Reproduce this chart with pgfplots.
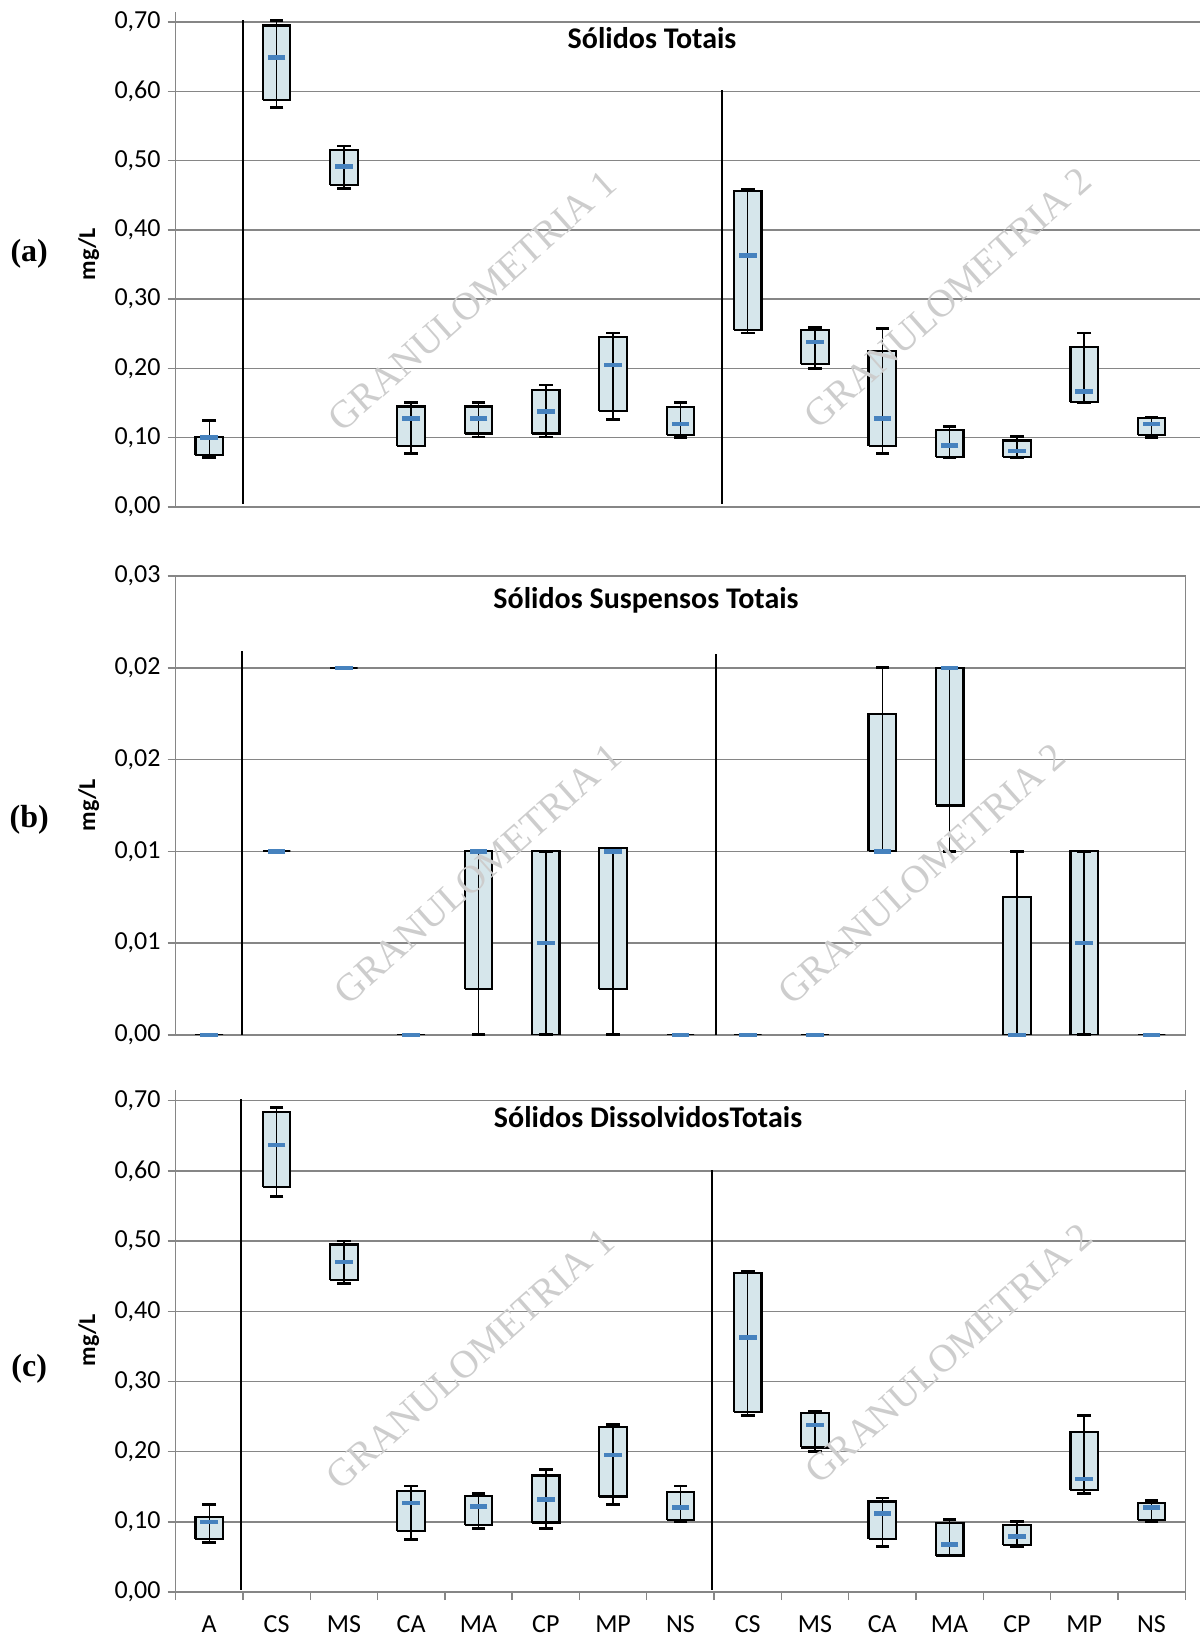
\documentclass[border=0pt]{standalone}
\usepackage{fontspec}
\setmainfont{Carlito}
\newfontfamily\serif{Liberation Serif}
\usepackage{pgfplots}
\pgfplotsset{compat=1.18}
\definecolor{boxfill}{RGB}{214,230,235}
\definecolor{medblue}{RGB}{70,130,190}
\definecolor{gridgray}{RGB}{134,134,134}
\definecolor{wm}{RGB}{205,205,205}
\newcommand{\tickfont}{\fontsize{13}{15}\selectfont}
\pgfplotsset{
  boxst/.style={fill=boxfill, draw=black, line width=1.1pt, mark=none, line join=miter},
  stemst/.style={draw=black, line width=0.75pt, mark=none},
  capst/.style={only marks, mark=-, mark size=3.4pt, mark options={draw=black, line width=1.4pt}},
  medpass/.style={only marks, mark=-, mark size=4.4pt, mark options={draw=medblue, line width=2.3pt}},
  base/.style={
    scale only axis, anchor=south west,
    xmin=-0.5, xmax=14.5, width=504.8pt, ymin=0,
    axis line style={draw=gridgray, line width=0.7pt},
    ymajorgrids, grid style={draw=gridgray, line width=0.7pt},
    tick style={draw=gridgray, line width=0.7pt},
    tick align=outside, major tick length=4pt,
    ytick pos=left, scaled y ticks=false,
    /pgf/number format/fixed,
    /pgf/number format/fixed zerofill,
    /pgf/number format/precision=2,
    /pgf/number format/use comma,
    /pgf/number format/assume math mode=true,
    yticklabel style={font=\tickfont},
    xticklabel style={font=\tickfont, yshift=-4.5pt},
  },
  sep/.style={black, line width=0.75pt, mark=none},
}
% #1 position, #2 lower whisker, #3 lower quartile, #4 median, #5 upper quartile, #6 upper whisker
\newcommand{\bx}[6]{%
\pgfmathsetmacro\xl{#1-0.205}\pgfmathsetmacro\xr{#1+0.205}%
\edef\tmp{\noexpand\addplot[boxst] coordinates {(\xl,#3) (\xr,#3) (\xr,#5) (\xl,#5) (\xl,#3)};}\tmp
\addplot[stemst] coordinates {(#1,#2) (#1,#6)};
\addplot[capst] coordinates {(#1,#2) (#1,#6)};
}
\newcommand{\wmfont}{\serif\fontsize{19.5}{22}\selectfont}
\begin{document}
\begin{tikzpicture}
\useasboundingbox (0,0) rectangle (600pt,819.5pt);
% ---------------- (a)
\begin{axis}[base, at={(87.8pt,566pt)}, height=247.7pt, ymax=0.715,
  xmax=14.717, width=512.1pt,
  axis x line*=bottom, axis y line*=left, xtick=\empty,
  ytick={0,0.1,0.2,0.3,0.4,0.5,0.6,0.7}]
\addplot[sep] coordinates {(0.5,0.005) (0.5,0.703)};
\addplot[sep] coordinates {(7.62,0.005) (7.62,0.602)};
\bx{0}{0.072}{0.075}{0.100}{0.101}{0.125}
\bx{1}{0.576}{0.587}{0.649}{0.695}{0.702}
\bx{2}{0.460}{0.465}{0.491}{0.515}{0.521}
\bx{3}{0.077}{0.088}{0.128}{0.145}{0.151}
\bx{4}{0.101}{0.106}{0.128}{0.145}{0.151}
\bx{5}{0.101}{0.106}{0.138}{0.169}{0.176}
\bx{6}{0.126}{0.139}{0.205}{0.245}{0.251}
\bx{7}{0.100}{0.104}{0.120}{0.144}{0.151}
\bx{8}{0.251}{0.256}{0.363}{0.456}{0.458}
\bx{9}{0.200}{0.206}{0.238}{0.256}{0.259}
\bx{10}{0.077}{0.088}{0.128}{0.225}{0.258}
\bx{11}{0.071}{0.072}{0.089}{0.111}{0.116}
\bx{12}{0.071}{0.072}{0.081}{0.096}{0.102}
\bx{13}{0.151}{0.151}{0.167}{0.231}{0.251}
\bx{14}{0.100}{0.104}{0.120}{0.128}{0.130}
\addplot[medpass] coordinates {(0,0.100) (1,0.649) (2,0.491) (3,0.128) (4,0.128) (5,0.138) (6,0.205) (7,0.120) (8,0.363) (9,0.238) (10,0.128) (11,0.089) (12,0.081) (13,0.167) (14,0.120)};
\end{axis}
% ---------------- (b)
\begin{axis}[base, at={(87.8pt,302.05pt)}, height=229.4pt, ymax=0.03,
  xtick=\empty,
  ytick={0,0.006,0.012,0.018,0.024,0.03}]
\addplot[sep] coordinates {(0.49,0) (0.49,0.0251)};
\addplot[sep] coordinates {(7.53,0) (7.53,0.0249)};
\bx{0}{0}{0}{0}{0}{0}
\bx{1}{0.012}{0.012}{0.012}{0.012}{0.012}
\bx{2}{0.024}{0.024}{0.024}{0.024}{0.024}
\bx{3}{0}{0}{0}{0}{0}
\bx{4}{0}{0.003}{0.012}{0.012}{0.012}
\bx{5}{0}{0}{0.006}{0.012}{0.012}
\bx{6}{0}{0.003}{0.012}{0.0122}{0.0122}
\bx{7}{0}{0}{0}{0}{0}
\bx{8}{0}{0}{0}{0}{0}
\bx{9}{0}{0}{0}{0}{0}
\bx{10}{0.012}{0.012}{0.012}{0.021}{0.024}
\bx{11}{0.012}{0.015}{0.024}{0.024}{0.024}
\bx{12}{0}{0}{0}{0.009}{0.012}
\bx{13}{0}{0}{0.006}{0.012}{0.012}
\bx{14}{0}{0}{0}{0}{0}
\addplot[medpass] coordinates {(0,0) (1,0.012) (2,0.024) (3,0) (4,0.012) (5,0.006) (6,0.012) (7,0) (8,0) (9,0) (10,0.012) (11,0.024) (12,0) (13,0.006) (14,0)};
\end{axis}
% ---------------- (c)
\begin{axis}[base, at={(87.8pt,23.5pt)}, height=250.9pt, ymax=0.715,
  axis x line*=bottom, axis y line*=box,
  ytick={0,0.1,0.2,0.3,0.4,0.5,0.6,0.7},
  xtick={-0.5,0.5,...,14.5}, x tick label as interval,
  xticklabels={A,CS,MS,CA,MA,CP,MP,NS,CS,MS,CA,MA,CP,MP,NS}]
\addplot[sep] coordinates {(0.47,0.003) (0.47,0.702)};
\addplot[sep] coordinates {(7.47,0.003) (7.47,0.602)};
\bx{0}{0.071}{0.075}{0.100}{0.107}{0.125}
\bx{1}{0.564}{0.577}{0.637}{0.684}{0.690}
\bx{2}{0.440}{0.445}{0.470}{0.495}{0.500}
\bx{3}{0.075}{0.087}{0.127}{0.144}{0.151}
\bx{4}{0.090}{0.096}{0.122}{0.137}{0.140}
\bx{5}{0.090}{0.099}{0.132}{0.166}{0.175}
\bx{6}{0.125}{0.136}{0.195}{0.235}{0.239}
\bx{7}{0.100}{0.103}{0.120}{0.143}{0.151}
\bx{8}{0.251}{0.256}{0.363}{0.455}{0.457}
\bx{9}{0.200}{0.206}{0.238}{0.255}{0.258}
\bx{10}{0.065}{0.075}{0.112}{0.129}{0.134}
\bx{11}{0.052}{0.052}{0.068}{0.098}{0.103}
\bx{12}{0.064}{0.067}{0.079}{0.096}{0.100}
\bx{13}{0.140}{0.145}{0.161}{0.228}{0.251}
\bx{14}{0.100}{0.103}{0.120}{0.127}{0.130}
\addplot[medpass] coordinates {(0,0.100) (1,0.637) (2,0.470) (3,0.127) (4,0.122) (5,0.132) (6,0.195) (7,0.120) (8,0.363) (9,0.238) (10,0.112) (11,0.068) (12,0.079) (13,0.161) (14,0.120)};
\end{axis}
% titles
\node[font=\bfseries\fontsize{15}{18}\selectfont] at (326pt,800.2pt) {Sólidos Totais};
\node[font=\bfseries\fontsize{15}{18}\selectfont] at (323pt,519.5pt) {Sólidos Suspensos Totais};
\node[font=\bfseries\fontsize{15}{18}\selectfont] at (324pt,260.8pt) {Sólidos DissolvidosTotais};
% y labels
\node[rotate=90, font=\bfseries\fontsize{12}{14}\selectfont] at (44.4pt,692.5pt) {mg/L};
\node[rotate=90, font=\bfseries\fontsize{12}{14}\selectfont] at (44.4pt,417pt) {mg/L};
\node[rotate=90, font=\bfseries\fontsize{12}{14}\selectfont] at (44.4pt,149.5pt) {mg/L};
% panel letters
\node[font=\serif\bfseries\fontsize{16}{18}\selectfont] at (14.6pt,692.6pt) {(a)};
\node[font=\serif\bfseries\fontsize{16}{18}\selectfont] at (14.6pt,409.7pt) {(b)};
\node[font=\serif\bfseries\fontsize{16}{18}\selectfont] at (14.6pt,134.9pt) {(c)};
% watermarks
\node[rotate=41.7, text=wm, font=\wmfont] at (236.2pt,669pt) {GRANULOMETRIA 1};
\node[rotate=41.7, text=wm, font=\wmfont] at (474pt,670.5pt) {GRANULOMETRIA 2};
\node[rotate=41.7, text=wm, font=\wmfont] at (238.9pt,382.6pt) {GRANULOMETRIA 1};
\node[rotate=41.7, text=wm, font=\wmfont] at (461pt,382.6pt) {GRANULOMETRIA 2};
\node[rotate=41.7, text=wm, font=\wmfont] at (235.2pt,140pt) {GRANULOMETRIA 1};
\node[rotate=41.7, text=wm, font=\wmfont] at (474.6pt,142.7pt) {GRANULOMETRIA 2};
\end{tikzpicture}
\end{document}
